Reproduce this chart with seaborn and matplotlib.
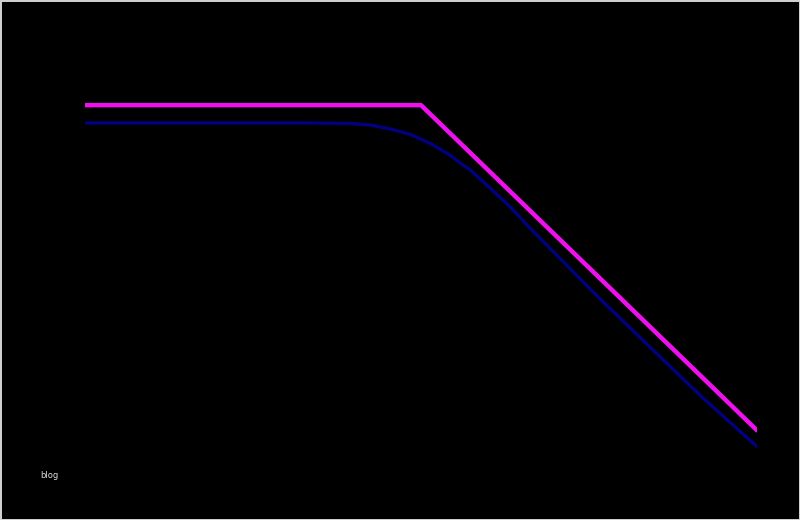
import matplotlib
matplotlib.use("Agg")
import matplotlib.pyplot as plt
import seaborn as sns
import pandas as pd

freq_actual = [1, 100, 232, 351, 529, 798, 1203, 1815, 2230, 2750, 4150, 6300, 9400, 40000, 310000, 1000000]
gain_actual = [0.0, 0.0, -0.1, -0.37, -1.11, -2.1, -3.77, -5.94, -7.43, -8.7, -12.1, -15.6, -19.5, -32.7, -50.5, -60.0]

# Asymptotic approximation (magenta), drawn slightly above
freq_asym = [1, 1000, 1000000]
gain_asym = [3.3, 3.3, -57.0]

x_ticks = [1, 10, 100, 1000, 10000, 100000, 1000000]
x_tick_labels = ["1", "10", "100", "1k", "10k", "100k", "1M"]
y_ticks = [0, -20, -40, -60]
y_tick_labels = ["0", "-20", "-40", "-60"]

sns.set_theme(style="white")
plt.rcParams['font.family'] = ['DejaVu Sans']

fig = plt.figure(figsize=(8, 5.2), dpi=100)
fig.patch.set_facecolor("black")
fig.patch.set_edgecolor("#cfcfcf")
fig.patch.set_linewidth(2.0)

ax = fig.add_axes([85/800, 1 - 460/520, 672/800, (460 - 69)/520])
ax.set_facecolor("black")

df_a = pd.DataFrame({"f": freq_actual, "g": gain_actual})
df_s = pd.DataFrame({"f": freq_asym, "g": gain_asym})
sns.lineplot(data=df_a, x="f", y="g", ax=ax, color="#000080", linewidth=2.4, sort=False)
sns.lineplot(data=df_s, x="f", y="g", ax=ax, color="#ee11ee", linewidth=3.2, sort=False)

ax.set_xscale("log")
ax.set_xlim(1, 1000000)
ax.set_ylim(-62.5, 10)
ax.set_xticks(x_ticks)
ax.set_xticklabels(x_tick_labels)
ax.set_yticks(y_ticks)
ax.set_yticklabels(y_tick_labels)
ax.minorticks_off()
hidden = "#000000"
ax.tick_params(colors=hidden, labelcolor=hidden, labelsize=10)
ax.set_xlabel("Frequency", color=hidden)
ax.set_ylabel("Gain (dB)", color=hidden)
for s in ax.spines.values():
    s.set_visible(False)
ax.grid(False)

fig.text(40/800, 1 - 475/520, "blog", color="#dddddd", fontsize=6, va="center", ha="left")

fig.savefig("out.png", dpi=100, facecolor=fig.get_facecolor(), edgecolor=fig.get_edgecolor())
